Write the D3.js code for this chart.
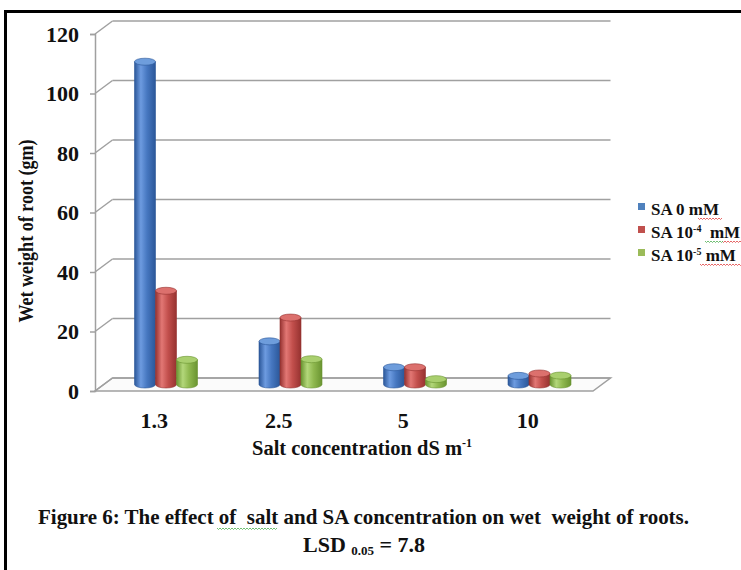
<!DOCTYPE html>
<html>
<head>
<meta charset="utf-8">
<script src="https://cdn.jsdelivr.net/npm/d3@7/dist/d3.min.js"></script>
<style>
  html, body { margin: 0; padding: 0; background: #fff; }
  svg { display: block; }
  text { font-family: "Liberation Serif", "Times New Roman", serif; font-weight: bold; fill: #111; white-space: pre; }
</style>
</head>
<body>
<svg id="chart" width="741" height="570"></svg>
<script>
// Salt concentration levels (dS m-1)
const categories = ["1.3", "2.5", "5", "10"];
// Wet weight of root (gm) per salicylic-acid treatment
const sa0 = [108.5, 14.5, 5.8, 2.9];
const sa4 = [31.5, 22.5, 5.8, 3.7];
const sa5 = [8.3, 8.5, 1.8, 3];
const seriesNames = ["SA 0 mM", "SA 10-4 mM", "SA 10-5 mM"];
const yTicks = [0, 20, 40, 60, 80, 100, 120];

const series = [
  { key: "sa0", values: sa0, dark: "#2b5799", mid: "#4677c0", light: "#6d9be0", top: "#6e9ddc", sw: "#4f81bd" },
  { key: "sa4", values: sa4, dark: "#963230", mid: "#c24f4c", light: "#e27774", top: "#dc706d", sw: "#c0504d" },
  { key: "sa5", values: sa5, dark: "#6a9431", mid: "#8fb84f", light: "#b3d77a", top: "#a9cf6e", sw: "#9bbb59" }
];

const svg = d3.select("#chart");
const defs = svg.append("defs");

// depth offsets of the 3-D box (back wall relative to front edge)
const depthX = 17.5, depthY = -13;

const x = d3.scaleBand().domain(categories).range([95, 593]);
const xSub = d3.scaleBand().domain(series.map(s => s.key)).range([0, 63]);
const y = d3.scaleLinear().domain([0, 120]).range([391, 34]);

// frame lines
svg.append("line").attr("x1", 5.5).attr("x2", 5.5).attr("y1", 10).attr("y2", 570)
  .attr("stroke", "#000").attr("stroke-width", 3);
svg.append("line").attr("x1", 4).attr("x2", 741).attr("y1", 11.5).attr("y2", 11.5)
  .attr("stroke", "#000").attr("stroke-width", 3);

const grid = svg.append("g").attr("stroke", "#a0a0a0").attr("stroke-width", 1.5).attr("fill", "none");

// floor
grid.append("path")
  .attr("d", `M${x.range()[0]},${y(0)} L${x.range()[1]},${y(0)} L${x.range()[1] + depthX},${y(0) + depthY} L${x.range()[0] + depthX},${y(0) + depthY} Z`)
  .attr("fill", "#fbfbfb");

// back-wall gridlines and side-wall diagonals
yTicks.forEach(t => {
  grid.append("line")
    .attr("x1", x.range()[0] + depthX).attr("x2", x.range()[1] + depthX)
    .attr("y1", y(t) + depthY).attr("y2", y(t) + depthY);
  grid.append("line")
    .attr("x1", x.range()[0]).attr("x2", x.range()[0] + depthX)
    .attr("y1", y(t)).attr("y2", y(t) + depthY);
});

// value axis
const yAxis = d3.axisLeft(y).tickValues(yTicks).tickSize(5).tickPadding(11);
const yAxisG = svg.append("g").attr("transform", `translate(${x.range()[0]},0)`).call(yAxis);
yAxisG.select(".domain").attr("stroke", "#a0a0a0").attr("stroke-width", 1.5);
yAxisG.selectAll(".tick line").attr("stroke", "#a0a0a0").attr("stroke-width", 1.5);
yAxisG.selectAll(".tick text")
  .style("font-family", "'Liberation Serif', serif").style("font-weight", "bold")
  .style("font-size", "22px").attr("fill", "#111");

// category axis labels
const xAxis = d3.axisBottom(x).tickSize(0).tickPadding(0);
const xAxisG = svg.append("g").attr("transform", `translate(-3,${y(0) + 21})`).call(xAxis);
xAxisG.select(".domain").remove();
xAxisG.selectAll(".tick text")
  .style("font-family", "'Liberation Serif', serif").style("font-weight", "bold")
  .style("font-size", "22px").attr("fill", "#111");

// cylinder gradients
series.forEach(s => {
  const g = defs.append("linearGradient").attr("id", "grad-" + s.key)
    .attr("x1", "0%").attr("x2", "100%").attr("y1", "0%").attr("y2", "0%");
  g.append("stop").attr("offset", "0%").attr("stop-color", s.dark);
  g.append("stop").attr("offset", "30%").attr("stop-color", s.light);
  g.append("stop").attr("offset", "60%").attr("stop-color", s.mid);
  g.append("stop").attr("offset", "100%").attr("stop-color", s.dark);
});

// 3-D cylinders, standing at mid depth
const midX = depthX / 2, midY = depthY / 2;
const ry = 3.5;
const bars = svg.append("g");
categories.forEach((c, i) => {
  series.forEach(s => {
    const v = s.values[i];
    const bw = xSub.bandwidth();
    const rx = bw / 2;
    const cx = x(c) + x.bandwidth() / 2 - 31.5 + xSub(s.key) + rx + midX;
    const yb = y(0) + midY;
    const yt = y(v) + midY;
    const body = `M${cx - rx},${yt} L${cx - rx},${yb} A${rx},${ry} 0 0 0 ${cx + rx},${yb} L${cx + rx},${yt} Z`;
    bars.append("path").attr("d", body).attr("fill", `url(#grad-${s.key})`)
      .attr("stroke", s.dark).attr("stroke-width", 0.6);
    bars.append("ellipse").attr("cx", cx).attr("cy", yt).attr("rx", rx).attr("ry", ry)
      .attr("fill", s.top).attr("stroke", s.dark).attr("stroke-width", 0.6);
  });
});

// axis titles
svg.append("text")
  .attr("transform", "translate(33,231) rotate(-90)")
  .attr("text-anchor", "middle")
  .attr("textLength", 183).attr("lengthAdjust", "spacingAndGlyphs")
  .style("font-size", "20px")
  .text("Wet weight of root (gm)");

const xt = svg.append("text").attr("x", 252).attr("y", 455).style("font-size", "20px");
xt.append("tspan").attr("textLength", 210).attr("lengthAdjust", "spacingAndGlyphs").text("Salt concentration dS m");
xt.append("tspan").attr("dy", -8).style("font-size", "12px").text("-1");

// legend
const legend = svg.append("g").attr("transform", "translate(638,0)");
const legendRows = [210, 233, 256];
series.forEach((s, i) => {
  const row = legend.append("g").attr("transform", `translate(0,${legendRows[i]})`);
  row.append("rect").attr("x", 0).attr("y", -7).attr("width", 7).attr("height", 7).attr("fill", s.sw);
  const t = row.append("text").attr("x", 13).attr("y", 5).style("font-size", "17px");
  if (i === 0) {
    t.text(seriesNames[0]);
  } else {
    const exp = i === 1 ? "-4" : "-5";
    t.append("tspan").text("SA 10");
    t.append("tspan").attr("dy", -6).style("font-size", "10px").text(exp);
    t.append("tspan").attr("dy", 6).text(i === 1 ? "  mM" : " mM");
  }
});

// proofing squiggles under flagged words
function squiggle(x0, x1, yy, color) {
  let d = `M${x0},${yy}`;
  for (let xx = x0, k = 0; xx < x1; xx += 1.5, k++) d += ` L${xx + 1.5},${yy + (k % 2 ? 0 : 1.5)}`;
  svg.append("path").attr("d", d).attr("fill", "none").attr("stroke", color).attr("stroke-width", 0.8);
}
squiggle(698, 722, 218, "#e04040");
squiggle(700, 741, 264, "#e04040");
squiggle(722, 741, 241, "#e04040");
squiggle(705, 722, 241, "#4caf50");

// caption
svg.append("text").attr("x", 38).attr("y", 524)
  .attr("textLength", 651).attr("lengthAdjust", "spacingAndGlyphs")
  .style("font-size", "22px")
  .text("Figure 6: The effect of  salt and SA concentration on wet  weight of roots.");
squiggle(217, 277, 528, "#4caf50");

const lsd = svg.append("text").attr("x", 303).attr("y", 552).style("font-size", "22px");
lsd.append("tspan").text("LSD ");
lsd.append("tspan").attr("dy", 3).style("font-size", "13px").text("0.05");
lsd.append("tspan").attr("dy", -3).text(" = 7.8");
</script>
</body>
</html>
